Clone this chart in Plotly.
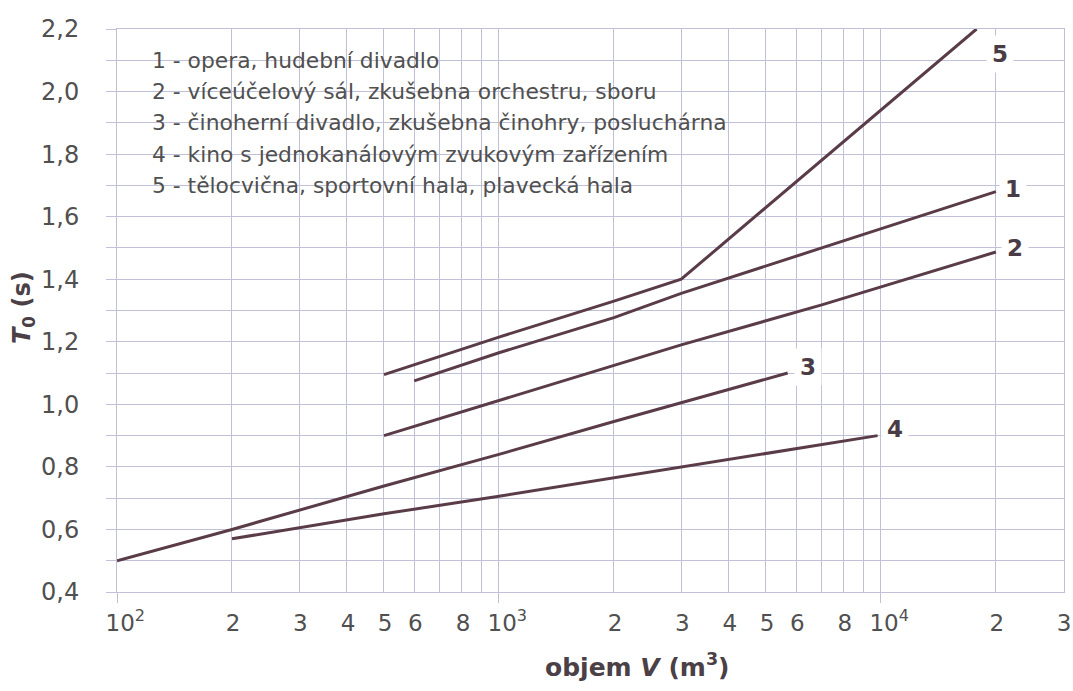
import math
import plotly.graph_objects as go

# ---------------- data ----------------
# 1 - opera, hudební divadlo
v_opera = [600, 1000, 2000, 3000, 7000, 20000]
t_opera = [1.075, 1.165, 1.277, 1.355, 1.50, 1.68]
# 2 - víceúčelový sál
v_multi = [500, 1000, 3000, 7000, 20000]
t_multi = [0.90, 1.012, 1.19, 1.318, 1.487]
# 3 - činoherní divadlo
v_drama = [100, 200, 500, 1000, 2000, 3000, 5700]
t_drama = [0.50, 0.60, 0.739, 0.84, 0.945, 1.005, 1.10]
# 4 - kino
v_cinema = [200, 500, 1000, 2000, 3000, 5000, 9800]
t_cinema = [0.57, 0.65, 0.706, 0.765, 0.80, 0.845, 0.90]
# 5 - tělocvična
v_sport = [500, 1000, 2000, 3000, 17800]
t_sport = [1.095, 1.215, 1.33, 1.40, 2.20]

curve_ids = ["1", "2", "3", "4", "5"]
legend_texts = [
    "1 - opera, hudební divadlo",
    "2 - víceúčelový sál, zkušebna orchestru, sboru",
    "3 - činoherní divadlo, zkušebna činohry, posluchárna",
    "4 - kino s jednokanálovým zvukovým zařízením",
    "5 - tělocvična, sportovní hala, plavecká hala",
]

NB = "\u00a0"
x_tickvals = [100, 200, 300, 400, 500, 600, 800,
              1000, 2000, 3000, 4000, 5000, 6000, 8000,
              10000, 20000, 30000]
x_ticktext = [NB * 2 + "10<sup>2</sup>", "2", "3", "4", "5", "6", "8",
              NB * 2 + "10<sup>3</sup>", "2", "3", "4", "5", "6", "8",
              NB * 2 + "10<sup>4</sup>", "2", "3"]
x_minorvals = [700, 900, 7000, 9000]
y_tickvals = [0.4, 0.6, 0.8, 1.0, 1.2, 1.4, 1.6, 1.8, 2.0, 2.2]
y_ticktext = ["0,4", "0,6", "0,8", "1,0", "1,2", "1,4", "1,6", "1,8", "2,0", "2,2"]
y_minorvals = [0.5, 0.7, 0.9, 1.1, 1.3, 1.5, 1.7, 1.9, 2.1]

# ---------------- styling ----------------
LINE = "#5a3c48"
GRID = "#c0c0d8"
TXT = "#505050"
FONT = "DejaVu Sans"

fig = go.Figure()
series = [(v_opera, t_opera), (v_multi, t_multi), (v_drama, t_drama),
          (v_cinema, t_cinema), (v_sport, t_sport)]
for (vx, ty), cid in zip(series, curve_ids):
    fig.add_trace(go.Scatter(x=vx, y=ty, mode="lines", name=cid,
                             line=dict(color=LINE, width=3), showlegend=False,
                             hoverinfo="skip"))

# curve number labels (positions in data space)
label_pos = {"1": (22200, 1.69), "2": (22400, 1.50), "3": (6440, 1.12),
             "4": (10900, 0.92), "5": (20500, 2.12)}
for cid in curve_ids:
    lv, lt = label_pos[cid]
    fig.add_annotation(x=math.log10(lv), y=lt, xref="x", yref="y", text="<b>%s</b>" % cid,
                       showarrow=False, bgcolor="white", borderpad=5,
                       font=dict(family=FONT, size=23, color="#4a3c44"))

# legend box text
for i, t in enumerate(legend_texts):
    fig.add_annotation(x=(150 - 117) / 947, y=2.1 - 0.1 * i, xref="paper", yref="y",
                       text=t, showarrow=False, xanchor="left", yanchor="middle",
                       font=dict(family=FONT, size=21.8, color=TXT))

fig.add_shape(type="rect", xref="paper", yref="paper",
              x0=(143 - 117) / 947, x1=(740 - 117) / 947,
              y0=(592 - 207) / 563, y1=(592 - 36) / 563,
              fillcolor="white", line=dict(width=0), layer="between")

# axis titles
fig.add_annotation(x=(637 - 117) / 947, y=(592 - 665) / 563, xref="paper", yref="paper",
                   text="<b>objem <i>V</i> (m<sup>3</sup>)</b>", showarrow=False,
                   xanchor="center", yanchor="middle",
                   font=dict(family=FONT, size=25, color="#4a4046"))
fig.add_annotation(x=(23 - 117) / 947, y=(592 - 308) / 563, xref="paper", yref="paper",
                   text="<b><i>T</i><sub>0</sub> (s)</b>", showarrow=False, textangle=-90,
                   xanchor="center", yanchor="middle",
                   font=dict(family=FONT, size=24, color="#4a4046"))

xr = [2, math.log10(30150)]
fig.update_layout(
    width=1073, height=691, autosize=False,
    margin=dict(l=117, r=9, t=29, b=99, pad=0, autoexpand=False),
    paper_bgcolor="white", plot_bgcolor="white",
    font=dict(family=FONT, color=TXT),
    xaxis=dict(type="log", range=xr, tickmode="array", tickvals=x_tickvals,
               ticktext=x_ticktext, tickangle=0, showgrid=True, gridcolor=GRID, gridwidth=1,
               ticks="", showline=True, linecolor=GRID, linewidth=1, mirror=True,
               tickfont=dict(family=FONT, size=23, color=TXT), ticklabeloverflow="allow",
               ticklabelshift=1, ticklabelstandoff=10, zeroline=False, automargin=False,
               minor=dict(tickmode="array", tickvals=x_minorvals, showgrid=True,
                          gridcolor=GRID, gridwidth=1, ticks="")),
    xaxis2=dict(type="log", range=xr, overlaying="x", anchor="y", side="bottom",
                tickmode="array", tickvals=[100, 1000, 10000], ticks="outside",
                ticklen=10, tickcolor=GRID, showticklabels=False, showgrid=False,
                showline=False, zeroline=False, automargin=False),
    yaxis=dict(range=[0.4, 2.2], tickmode="array", tickvals=y_tickvals,
               ticktext=y_ticktext, showgrid=True, gridcolor=GRID, gridwidth=1,
               ticks="outside", ticklen=10, tickcolor=GRID, showline=True,
               linecolor=GRID, linewidth=1, mirror=True, zeroline=False, automargin=False,
               tickfont=dict(family=FONT, size=24, color=TXT), ticklabelstandoff=22,
               minor=dict(tickmode="array", tickvals=y_minorvals, showgrid=True,
                          gridcolor=GRID, gridwidth=1, ticks="outside", ticklen=10,
                          tickcolor=GRID)),
)
# empty trace bound to the overlay axis so its ticks are drawn
fig.add_trace(go.Scatter(x=[None], y=[None], xaxis="x2", yaxis="y", showlegend=False,
                         hoverinfo="skip"))

fig.write_html("out.html")
